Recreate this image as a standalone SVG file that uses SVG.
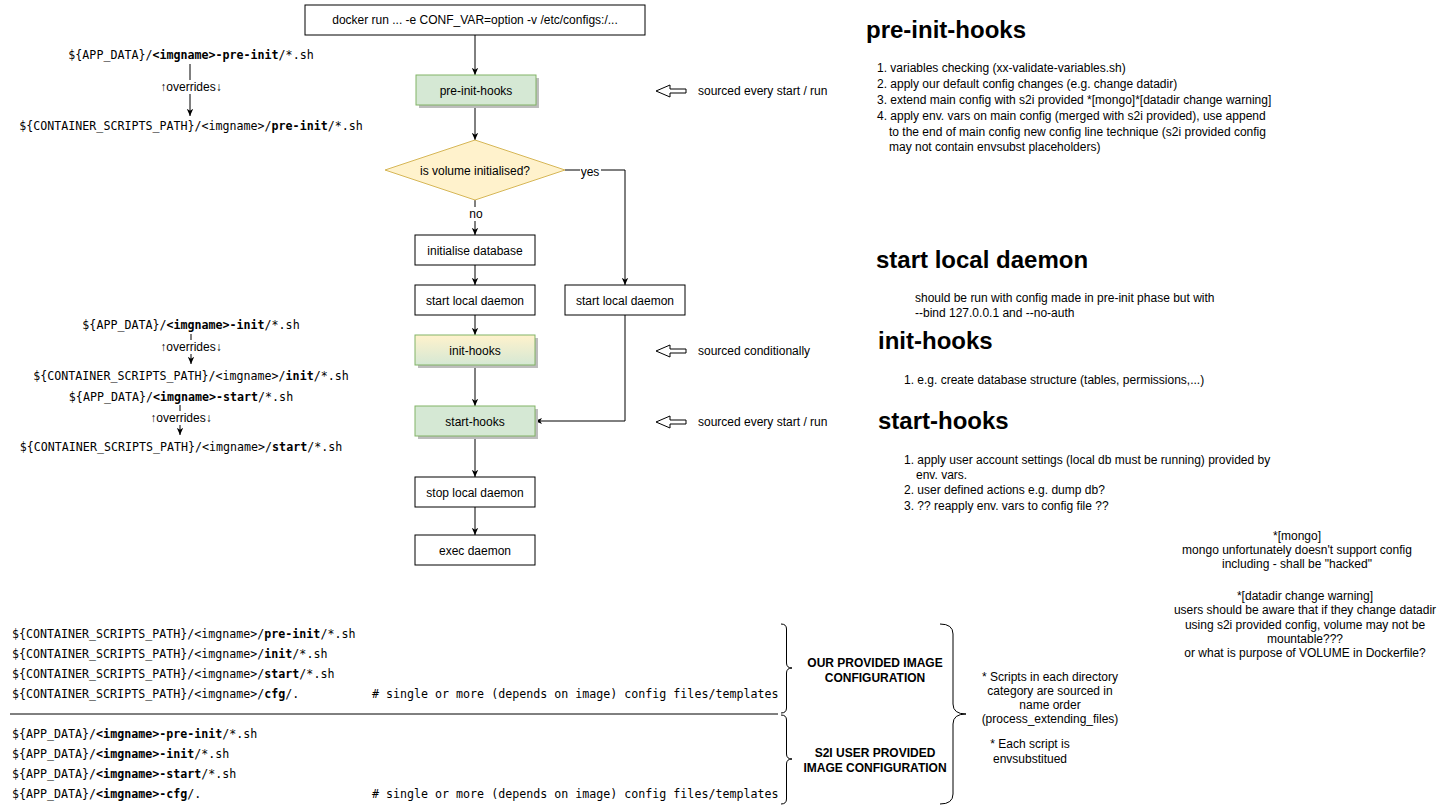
<svg xmlns="http://www.w3.org/2000/svg" width="1440" height="812" viewBox="0 0 1440 812">
<defs>
<style>
.t{font-family:"Liberation Sans",Arial,sans-serif;font-size:12px;fill:#000}
.c{text-anchor:middle}
.h{font-family:"Liberation Sans",Arial,sans-serif;font-size:24px;font-weight:bold;fill:#000}
.m{font-family:"DejaVu Sans Mono","Liberation Mono",monospace;font-size:11.65px;fill:#000}
.b{font-weight:bold}
.box{fill:#fff;stroke:#000;stroke-width:1}
.gbox{fill:#d5e8d4;stroke:#82b366;stroke-width:1}
.sh{fill:#bdbdbd}
.ln{fill:none;stroke:#000;stroke-width:1}
.ar{marker-end:url(#arr)}
.hol{fill:#fff;stroke:#000;stroke-width:1}
.bg{fill:#fff}
</style>
<marker id="arr" viewBox="0 0 10 10" refX="9" refY="5" markerWidth="8" markerHeight="8" markerUnits="userSpaceOnUse" orient="auto">
<path d="M0,1 L9,5 L0,9 L2.5,5 z" fill="#000"/>
</marker>
<linearGradient id="ig" x1="0" y1="0" x2="0" y2="1">
<stop offset="0" stop-color="#fff2cc"/>
<stop offset="1" stop-color="#d5e8d4"/>
</linearGradient>
</defs>
<rect width="1440" height="812" fill="#fff"/>

<g id="connectors">
<line class="ln ar" x1="475" y1="35" x2="475" y2="75"/>
<line class="ln ar" x1="475" y1="105" x2="475" y2="140"/>
<line class="ln ar" x1="475" y1="200" x2="475" y2="235"/>
<line class="ln ar" x1="475" y1="265" x2="475" y2="285"/>
<line class="ln ar" x1="475" y1="315" x2="475" y2="335"/>
<line class="ln ar" x1="475" y1="365" x2="475" y2="406"/>
<line class="ln ar" x1="475" y1="436" x2="475" y2="477"/>
<line class="ln ar" x1="475" y1="507" x2="475" y2="535"/>
<polyline class="ln ar" points="565,170 625,170 625,285"/>
<polyline class="ln ar" points="625,315 625,421 535,421"/>
<rect class="bg" x="580" y="164" width="21" height="14"/>
<text class="t c" x="590" y="176">yes</text>
<rect class="bg" x="467" y="207" width="17" height="14"/>
<text class="t c" x="476" y="218">no</text>
<line class="ln ar" x1="190" y1="64" x2="190" y2="116"/>
<rect class="bg" x="156" y="80" width="70" height="14"/>
<text class="t c" x="191" y="91">↑overrides↓</text>
<line class="ln ar" x1="191" y1="334" x2="191" y2="364"/>
<rect class="bg" x="156" y="340" width="70" height="14"/>
<text class="t c" x="191" y="351">↑overrides↓</text>
<line class="ln ar" x1="180" y1="405" x2="180" y2="435"/>
<rect class="bg" x="145" y="411" width="70" height="14"/>
<text class="t c" x="181" y="422">↑overrides↓</text>
</g>

<g id="docker-run">
<rect class="box" x="305" y="5" width="340" height="30"/>
<text class="t c" x="475" y="24">docker run ... -e CONF_VAR=option -v /etc/configs:/...</text>
</g>
<g id="pre-init-hooks">
<rect class="sh" x="419" y="78" width="120" height="30"/>
<rect class="gbox" x="416" y="75" width="120" height="30"/>
<text class="t c" x="476" y="95">pre-init-hooks</text>
</g>
<g id="is-volume-initialised">
<polygon points="475,140 565,170 475,200 385,170" fill="#fff2cc" stroke="#d6b656" stroke-width="1"/>
<text class="t c" x="475" y="175">is volume initialised?</text>
</g>
<g id="initialise-database">
<rect class="box" x="415" y="235" width="120" height="30"/>
<text class="t c" x="475" y="255">initialise database</text>
</g>
<g id="start-local-daemon-1">
<rect class="box" x="415" y="285" width="120" height="30"/>
<text class="t c" x="475" y="305">start local daemon</text>
</g>
<g id="start-local-daemon-2">
<rect class="box" x="565" y="285" width="120" height="30"/>
<text class="t c" x="625" y="305">start local daemon</text>
</g>
<g id="init-hooks">
<rect class="sh" x="418" y="338" width="120" height="30"/>
<rect x="415" y="335" width="120" height="30" fill="url(#ig)" stroke="#82b366" stroke-width="1"/>
<text class="t c" x="475" y="355">init-hooks</text>
</g>
<g id="start-hooks">
<rect class="sh" x="418" y="409" width="120" height="30"/>
<rect class="gbox" x="415" y="406" width="120" height="30"/>
<text class="t c" x="475" y="426">start-hooks</text>
</g>
<g id="stop-local-daemon">
<rect class="box" x="415" y="477" width="120" height="30"/>
<text class="t c" x="475" y="497">stop local daemon</text>
</g>
<g id="exec-daemon">
<rect class="box" x="415" y="535" width="120" height="30"/>
<text class="t c" x="475" y="555">exec daemon</text>
</g>

<g id="hint-pre-init">
<polygon class="hol" points="656,91 670,85 670,89 686,89 686,93 670,93 670,97"/>
<text class="t" x="698" y="95">sourced every start / run</text>
</g>
<g id="hint-init">
<polygon class="hol" points="656,351 670,345 670,349 686,349 686,353 670,353 670,357"/>
<text class="t" x="698" y="355">sourced conditionally</text>
</g>
<g id="hint-start">
<polygon class="hol" points="656,422 670,416 670,420 686,420 686,424 670,424 670,428"/>
<text class="t" x="698" y="426">sourced every start / run</text>
</g>

<g id="paths-pre-init">
<text class="m c" x="191" y="59">${APP_DATA}/<tspan class="b">&lt;imgname&gt;-pre-init</tspan>/*.sh</text>
<text class="m c" x="191" y="130">${CONTAINER_SCRIPTS_PATH}/&lt;imgname&gt;/<tspan class="b">pre-init</tspan>/*.sh</text>
</g>
<g id="paths-init">
<text class="m c" x="191" y="329">${APP_DATA}/<tspan class="b">&lt;imgname&gt;-init</tspan>/*.sh</text>
<text class="m c" x="191" y="380">${CONTAINER_SCRIPTS_PATH}/&lt;imgname&gt;/<tspan class="b">init</tspan>/*.sh</text>
</g>
<g id="paths-start">
<text class="m c" x="181" y="401">${APP_DATA}/<tspan class="b">&lt;imgname&gt;-start</tspan>/*.sh</text>
<text class="m c" x="181" y="451">${CONTAINER_SCRIPTS_PATH}/&lt;imgname&gt;/<tspan class="b">start</tspan>/*.sh</text>
</g>

<g id="notes-pre-init">
<text class="h" x="866" y="38">pre-init-hooks</text>
<text class="t" x="877" y="72">1. variables checking (xx-validate-variables.sh)</text>
<text class="t" x="877" y="88">2. apply our default config changes (e.g. change datadir)</text>
<text class="t" x="877" y="104">3. extend main config with s2i provided *[mongo]*[datadir change warning]</text>
<text class="t" x="877" y="120">4. apply env. vars on main config (merged with s2i provided), use append</text>
<text class="t" x="889" y="136">to the end of main config new config line technique (s2i provided config</text>
<text class="t" x="889" y="151">may not contain envsubst placeholders)</text>
</g>
<g id="notes-start-local-daemon">
<text class="h" x="876" y="268">start local daemon</text>
<text class="t" x="915" y="302">should be run with config made in pre-init phase but with</text>
<text class="t" x="915" y="317">--bind 127.0.0.1 and --no-auth</text>
</g>
<g id="notes-init">
<text class="h" x="878" y="349">init-hooks</text>
<text class="t" x="904" y="384">1. e.g. create database structure (tables, permissions,...)</text>
</g>
<g id="notes-start">
<text class="h" x="878" y="429">start-hooks</text>
<text class="t" x="904" y="464">1. apply user account settings (local db must be running) provided by</text>
<text class="t" x="916" y="479">env. vars.</text>
<text class="t" x="904" y="494">2. user defined actions e.g. dump db?</text>
<text class="t" x="904" y="510">3. ?? reapply env. vars to config file ??</text>
</g>
<g id="notes-mongo">
<text class="t c" x="1297" y="540">*[mongo]</text>
<text class="t c" x="1297" y="554">mongo unfortunately doesn't support config</text>
<text class="t c" x="1297" y="568">including - shall be "hacked"</text>
</g>
<g id="notes-datadir">
<text class="t c" x="1305" y="600">*[datadir change warning]</text>
<text class="t c" x="1305" y="614">users should be aware that if they change datadir</text>
<text class="t c" x="1305" y="629">using s2i provided config, volume may not be</text>
<text class="t c" x="1305" y="643">mountable???</text>
<text class="t c" x="1305" y="657">or what is purpose of VOLUME in Dockerfile?</text>
</g>

<g id="our-provided">
<text class="m" x="12" y="638">${CONTAINER_SCRIPTS_PATH}/&lt;imgname&gt;/<tspan class="b">pre-init</tspan>/*.sh</text>
<text class="m" x="12" y="658">${CONTAINER_SCRIPTS_PATH}/&lt;imgname&gt;/<tspan class="b">init</tspan>/*.sh</text>
<text class="m" x="12" y="678">${CONTAINER_SCRIPTS_PATH}/&lt;imgname&gt;/<tspan class="b">start</tspan>/*.sh</text>
<text class="m" x="12" y="698">${CONTAINER_SCRIPTS_PATH}/&lt;imgname&gt;/<tspan class="b">cfg</tspan>/.</text>
<text class="m" x="372" y="698"># single or more (depends on image) config files/templates</text>
<path class="ln" d="M781,624 Q786.5,624 786.5,629 L786.5,663 Q786.5,668 792,668 Q786.5,668 786.5,673 L786.5,708 Q786.5,713 781,713"/>
<text class="t c b" x="875" y="667">OUR PROVIDED IMAGE</text>
<text class="t c b" x="875" y="682">CONFIGURATION</text>
</g>
<line class="ln" x1="10" y1="714" x2="778" y2="714"/>
<g id="s2i-provided">
<text class="m" x="12" y="738">${APP_DATA}/<tspan class="b">&lt;imgname&gt;-pre-init</tspan>/*.sh</text>
<text class="m" x="12" y="758">${APP_DATA}/<tspan class="b">&lt;imgname&gt;-init</tspan>/*.sh</text>
<text class="m" x="12" y="778">${APP_DATA}/<tspan class="b">&lt;imgname&gt;-start</tspan>/*.sh</text>
<text class="m" x="12" y="798">${APP_DATA}/<tspan class="b">&lt;imgname&gt;-cfg</tspan>/.</text>
<text class="m" x="372" y="798"># single or more (depends on image) config files/templates</text>
<path class="ln" d="M781,715 Q786.5,715 786.5,720 L786.5,754 Q786.5,759 792,759 Q786.5,759 786.5,764 L786.5,799 Q786.5,804 781,804"/>
<text class="t c b" x="875" y="757">S2I USER PROVIDED</text>
<text class="t c b" x="875" y="772">IMAGE CONFIGURATION</text>
</g>
<g id="script-notes">
<path class="ln" d="M940,624 Q953,624 953,634 L953,704 Q953,714 966,714 Q953,714 953,724 L953,794 Q953,804 940,804"/>
<text class="t c" x="1050" y="681">* Scripts in each directory</text>
<text class="t c" x="1050" y="695">category are sourced in</text>
<text class="t c" x="1050" y="709">name order</text>
<text class="t c" x="1050" y="723">(process_extending_files)</text>
<text class="t c" x="1030" y="748">* Each script is</text>
<text class="t c" x="1030" y="763">envsubstitued</text>
</g>
</svg>
